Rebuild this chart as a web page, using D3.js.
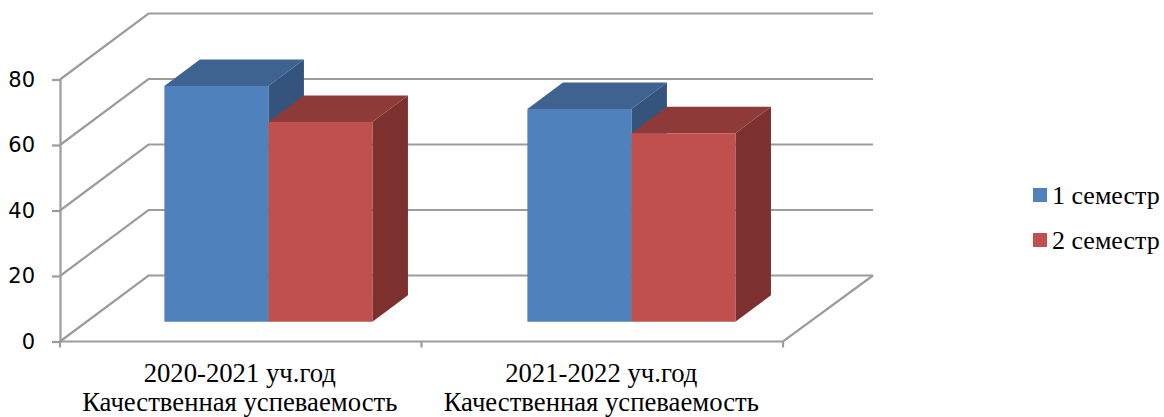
<!DOCTYPE html>
<html>
<head>
<meta charset="utf-8">
<script src="https://cdn.jsdelivr.net/npm/d3@7"></script>
<style>
  html, body { margin: 0; padding: 0; background: #fff; overflow: hidden; }
  svg { display: block; }
  .axis-y text { font-family: "DejaVu Sans", sans-serif; font-size: 21px; fill: #000; }
  .label, .legend text { font-family: "Liberation Serif", serif; fill: #000; }
</style>
</head>
<body>
<div id="vis"></div>
<script>
// chart values
var categories = ["2020-2021 уч.год", "2021-2022 уч.год"];
var subtitle = ["Качественная успеваемость", "Качественная успеваемость"];
var seriesNames = ["1 семестр", "2 семестр"];
var semester1 = [72, 65];
var semester2 = [61, 57.6];
var yTicks = [0, 20, 40, 60, 80];

var frontColors = ["#4f81bd", "#c0504d"];
var topColors = ["#3f6390", "#8e3a38"];
var sideColors = ["#34547e", "#7d312f"];
var gridColor = "#9c9c9c";

var width = 1164, height = 417;

var svg = d3.select("#vis").append("svg")
  .attr("width", width)
  .attr("height", height);

var y = d3.scaleLinear().domain([0, 80]).range([341.5, 79.5]);
var x0 = d3.scaleBand().domain(categories).range([60, 783]);
// bars sit on a slightly wider band than the axis, the original has them off centre
var xBars = d3.scaleBand().domain(categories).range([60.5, 786.5]);
var x1 = d3.scaleBand().domain(seriesNames).range([0, xBars.bandwidth()]).paddingInner(0).paddingOuter(0.745);

// depth of the fake 3D box, 0 is the front edge and 1 the back wall
var depthX = d3.scaleLinear().domain([0, 1]).range([0, 88.5]);
var depthY = d3.scaleLinear().domain([0, 1]).range([0, -66]);
var barFront = 0.298, barBack = 0.70;

function project(px, value, z) {
  return [px + depthX(z), y(value) + depthY(z)];
}
var line = d3.line();

// walls and gridlines
var grid = svg.append("g").attr("fill", "none").attr("stroke", gridColor).attr("stroke-width", 2.2);
yTicks.forEach(function(t) {
  grid.append("path").attr("d", line([project(60, t, 0), project(60, t, 1), project(784.5, t, 1)]));
});
grid.append("path").attr("d", line([project(60, 0, 0), project(783, 0, 0), project(784.5, 0, 1)]));

// y axis
var axisY = svg.append("g")
  .attr("class", "axis-y")
  .attr("transform", "translate(60,0)")
  .call(d3.axisLeft(y).tickValues(yTicks).tickSize(8).tickPadding(17));
axisY.selectAll("line").attr("stroke", gridColor).attr("stroke-width", 2.2);
axisY.select(".domain").attr("stroke", gridColor).attr("stroke-width", 2.2);

// ticks between categories
var edges = [60, x0(categories[1]), 783];
svg.append("g").selectAll("line")
  .data(edges)
  .enter()
  .append("line")
  .attr("x1", function(d) { return d; })
  .attr("x2", function(d) { return d; })
  .attr("y1", y(0))
  .attr("y2", y(0) + 6)
  .attr("stroke", gridColor)
  .attr("stroke-width", 2.2);

// bars
[semester1, semester2].forEach(function(values, s) {
  values.forEach(function(v, c) {
    var left = xBars(categories[c]) + x1(seriesNames[s]);
    var right = left + x1.bandwidth();
    var g = svg.append("g");
    var box = [
      { fill: sideColors[s], pts: [project(right, v, barFront), project(right, v, barBack), project(right, 0, barBack), project(right, 0, barFront)] },
      { fill: topColors[s], pts: [project(left, v, barFront), project(left, v, barBack), project(right, v, barBack), project(right, v, barFront)] },
      { fill: frontColors[s], pts: [project(left, v, barFront), project(right, v, barFront), project(right, 0, barFront), project(left, 0, barFront)] }
    ];
    g.selectAll("path")
      .data(box)
      .enter()
      .append("path")
      .attr("d", function(d) { return line(d.pts) + "Z"; })
      .attr("fill", function(d) { return d.fill; });
  });
});

// category labels
categories.forEach(function(name, i) {
  var cx = x0(name) + x0.bandwidth() / 2 - 1;
  svg.append("text").attr("class", "label")
    .attr("x", cx).attr("y", 382)
    .attr("text-anchor", "middle")
    .style("font-size", "26.7px")
    .text(name);
  svg.append("text").attr("class", "label")
    .attr("x", cx).attr("y", 411)
    .attr("text-anchor", "middle")
    .style("font-size", "26.7px")
    .text(subtitle[i]);
});

// legend
var legend = svg.append("g").attr("class", "legend");
var legendY = d3.scalePoint().domain(seriesNames).range([195, 240]);
seriesNames.forEach(function(name, i) {
  legend.append("rect")
    .attr("x", 1033).attr("y", legendY(name) - 7)
    .attr("width", 14).attr("height", 14)
    .attr("fill", frontColors[i]);
  legend.append("text")
    .attr("x", 1052).attr("y", legendY(name) + 9)
    .style("font-size", "26px")
    .text(name);
});
</script>
</body>
</html>
